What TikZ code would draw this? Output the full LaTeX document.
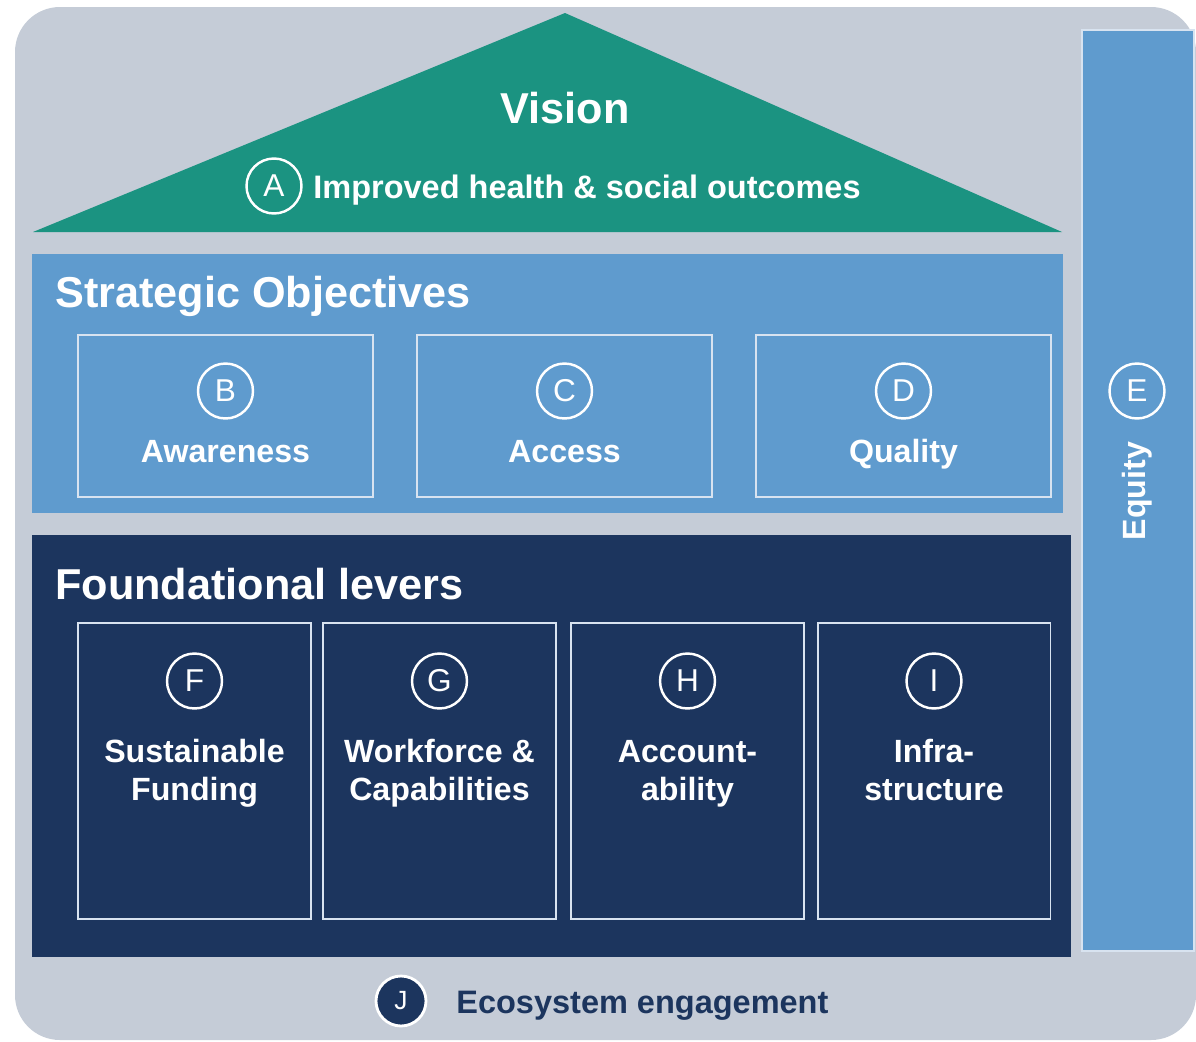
\documentclass[tikz,border=0pt]{standalone}
\usepackage{fontspec}
\setmainfont{Liberation Sans}
\usetikzlibrary{positioning,calc}

\definecolor{bggrey}{HTML}{C5CCD7}
\definecolor{visteal}{HTML}{1B9381}
\definecolor{objblue}{HTML}{5F9BCE}
\definecolor{levnavy}{HTML}{1C355E}
\definecolor{edgelight}{HTML}{D8E3F0}

\newcommand{\hdfont}{\fontsize{24.6}{28}\selectfont\bfseries}
\newcommand{\lblfont}{\fontsize{18.3}{21.5}\selectfont\bfseries}

\begin{document}
\begin{tikzpicture}
[ x=0.02cm, y=-0.02cm,
  heading/.style={ anchor=base west, inner sep=0pt, text=white, font=\hdfont },
  cellbox/.style={ draw=edgelight, line width=1.1pt, fill=none, inner sep=0pt },
  letter/.style={ circle, draw=white, line width=1.4pt, inner sep=0pt,
    minimum size=1.1cm, text=white, font=\fontsize{18}{18}\selectfont },
  label/.style={ anchor=base, inner sep=0pt, text=white, font=\lblfont, align=center }
]
\useasboundingbox (0,0) rectangle (1196,1041);
%\draw[help lines] (0,0) grid (1196,1041);

% house background
\fill[bggrey, rounded corners=0.9cm] (15,7) rectangle (1196,1040);

% roof
\fill[visteal] (33,232) -- (565,13) -- (1062,232) -- cycle;
\node[anchor=base, inner sep=0pt, text=white, font=\hdfont] (vision) at (565,123) {Vision};
\node[letter] (cA) at (274,186) {A};
\node[heading, font=\fontsize{18.5}{20}\selectfont\bfseries] (outcome) at (313,198)
  {Improved health \& social outcomes};

% strategic objectives
\fill[objblue] (32,254) rectangle (1063,513);
\node[heading] (objtitle) at (55,307) {Strategic Objectives};
\foreach \x/\l/\t in {225.5/B/Awareness, 564.5/C/Access, 903.5/D/Quality}{
  \node[cellbox, minimum width=5.9cm, minimum height=3.24cm] (box\l) at (\x,416) {};
  \node[letter] (c\l) at (\x,391) {\l};
  \node[label] (t\l) at (\x,462) {\t};
}

% foundational levers
\fill[levnavy] (32,535) rectangle (1071,957);
\node[heading] (levtitle) at (55,599) {Foundational levers};
\foreach \x/\l/\t in {194.5/F/{Sustainable\\Funding}, 439.5/G/{Workforce \&\\Capabilities},
                      687.5/H/{Account-\\ability}, 934/I/{Infra-\\structure}}{
  \node[cellbox, minimum width=4.66cm, minimum height=5.92cm] (box\l) at (\x,771) {};
  \node[letter] (c\l) at (\x,681) {\l};
  \node[label] (t\l) at (\x,800) {\t};
}

% equity pillar
\draw[fill=objblue, draw=edgelight, line width=0.8pt] (1082,30) rectangle (1194,951);
\node[letter] (cE) at (1137,391) {E};
\node[inner sep=0pt, text=white, font=\lblfont, rotate=90] (tE) at (1137,491) {Equity};

% ecosystem
\node[letter, fill=levnavy, minimum size=1.0cm, line width=1.6pt,
  font=\fontsize{15}{15}\selectfont] (cJ) at (401,1001) {J};
\node[heading, text=levnavy, font=\fontsize{18.5}{20}\selectfont\bfseries] (tJ) at (456,1013)
  {Ecosystem engagement};
\end{tikzpicture}
\end{document}
